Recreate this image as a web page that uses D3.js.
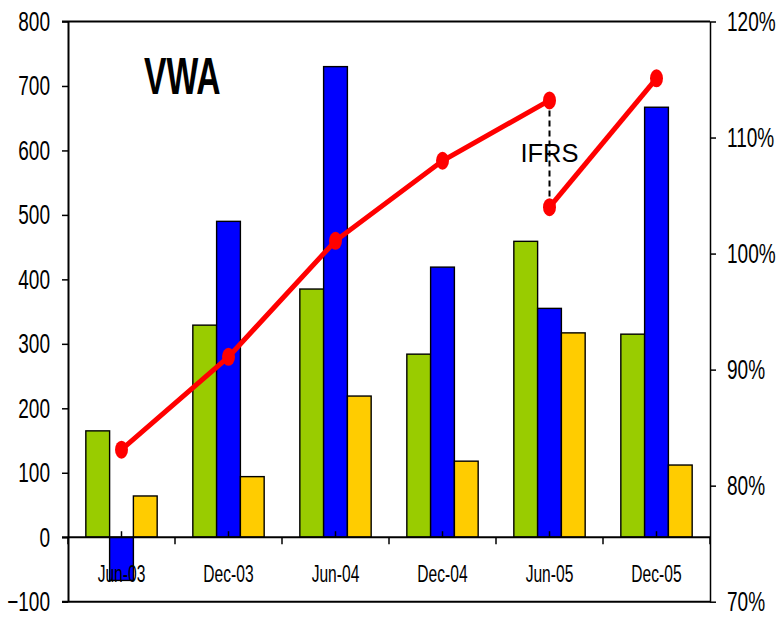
<!DOCTYPE html>
<html>
<head>
<meta charset="utf-8">
<script src="https://cdn.jsdelivr.net/npm/d3@7"></script>
<style>
  body { margin: 0; background: #fff; }
  svg { display: block; font-family: "Liberation Sans", Arial, sans-serif; }
</style>
</head>
<body>
<div id="chart"></div>
<script>
const categories = ["Jun-03", "Dec-03", "Jun-04", "Dec-04", "Jun-05", "Dec-05"];
const greenValues = [165, 329, 385, 284, 459, 315];
const blueValues = [-67, 490, 730, 419, 355, 667];
const yellowValues = [64, 94, 219, 118, 317, 112];

// ratio line, before and after the IFRS restatement at Jun-05
const ratioPreIfrs = [83.1, 91.1, 101.1, 108.0, 113.2];
const ratioPostIfrs = [104.0, 115.1];

const leftTicks = [-100, 0, 100, 200, 300, 400, 500, 600, 700, 800];
const rightTicks = [70, 80, 90, 100, 110, 120];

const seriesKeys = ["green", "blue", "yellow"];
const seriesColor = { green: "#99CC00", blue: "#0000FF", yellow: "#FFCC00" };
const seriesValues = { green: greenValues, blue: blueValues, yellow: yellowValues };

const width = 783;
const height = 617;
const plotLeft = 68;
const plotRight = 710;
const plotTop = 21.5;
const plotBottom = 601.7;
const squeeze = 0.68; // text in the source is drawn narrow

const svg = d3.select("#chart").append("svg")
  .attr("width", width)
  .attr("height", height);

const x = d3.scaleBand().domain(categories).range([plotLeft, plotRight]).padding(0);
const xSub = d3.scaleBand().domain(seriesKeys).range([0, x.bandwidth()])
  .paddingInner(0).paddingOuter(0.75);
const y = d3.scaleLinear().domain([-100, 800]).range([plotBottom, plotTop]);
const yRight = d3.scaleLinear().domain([70, 120]).range([plotBottom, plotTop]);

const cx = (c) => x(c) + x.bandwidth() / 2;

// bars
const groups = svg.append("g").selectAll("g")
  .data(categories)
  .join("g")
  .attr("transform", (d) => `translate(${x(d)},0)`);

groups.selectAll("rect")
  .data((d, i) => seriesKeys.map((k) => ({ key: k, value: seriesValues[k][i] })))
  .join("rect")
  .attr("x", (d) => xSub(d.key))
  .attr("width", xSub.bandwidth())
  .attr("y", (d) => y(Math.max(0, d.value)))
  .attr("height", (d) => Math.abs(y(d.value) - y(0)))
  .attr("fill", (d) => seriesColor[d.key])
  .attr("stroke", "#000")
  .attr("stroke-width", 1.4);

// frame lines
const frame = svg.append("g").attr("stroke", "#000").attr("stroke-width", 2);
frame.append("line").attr("x1", plotLeft - 6).attr("x2", plotRight)
  .attr("y1", y(800)).attr("y2", y(800));
frame.append("line").attr("x1", plotLeft - 6).attr("x2", plotRight)
  .attr("y1", y(-100)).attr("y2", y(-100));
frame.append("line").attr("x1", plotLeft - 6).attr("x2", plotRight)
  .attr("y1", y(0)).attr("y2", y(0));

// category ticks on the zero line
svg.append("g").attr("stroke", "#000").attr("stroke-width", 1.5)
  .selectAll("line.bound")
  .data(categories.concat(["end"]))
  .join("line")
  .attr("x1", (d, i) => (i < categories.length ? x(d) : plotRight))
  .attr("x2", (d, i) => (i < categories.length ? x(d) : plotRight))
  .attr("y1", y(0)).attr("y2", y(0) + 7);

svg.append("g").attr("stroke", "#000").attr("stroke-width", 1.5)
  .selectAll("line")
  .data(categories)
  .join("line")
  .attr("x1", cx).attr("x2", cx)
  .attr("y1", y(0) - 6).attr("y2", y(0));

// left axis
const axisL = svg.append("g")
  .attr("transform", `translate(${plotLeft},0)`)
  .call(d3.axisLeft(y).tickValues(leftTicks).tickSize(6).tickSizeOuter(0).tickPadding(12));
axisL.select(".domain").attr("stroke-width", 2);
axisL.selectAll(".tick line").attr("stroke-width", 1.5);
axisL.selectAll("text")
  .attr("font-size", 28)
  .attr("font-family", "'Liberation Sans', Arial, sans-serif")
  .attr("fill", "#000")
  .attr("x", -18 / squeeze)
  .attr("transform", `scale(${squeeze},1)`);

// right axis
const axisR = svg.append("g")
  .attr("transform", `translate(${plotRight},0)`)
  .call(d3.axisRight(yRight).tickValues(rightTicks).tickSize(6).tickSizeOuter(0).tickPadding(11)
    .tickFormat((d) => d + "%"));
axisR.select(".domain").attr("stroke-width", 1.5);
axisR.selectAll(".tick line").attr("stroke-width", 1.5);
axisR.selectAll("text")
  .attr("font-size", 28)
  .attr("font-family", "'Liberation Sans', Arial, sans-serif")
  .attr("fill", "#000")
  .attr("x", 17 / squeeze)
  .attr("transform", `scale(${squeeze},1)`);

// category labels
svg.append("g").selectAll("text")
  .data(categories)
  .join("text")
  .attr("x", (d) => cx(d) / 0.65)
  .attr("y", 582)
  .attr("transform", "scale(0.65,1)")
  .attr("text-anchor", "middle")
  .attr("font-size", 24)
  .text((d) => d);

// IFRS break marker
const ifrsCat = categories[4];
svg.append("line")
  .attr("x1", cx(ifrsCat)).attr("x2", cx(ifrsCat))
  .attr("y1", yRight(ratioPreIfrs[4])).attr("y2", yRight(ratioPostIfrs[0]))
  .attr("stroke", "#000")
  .attr("stroke-width", 2)
  .attr("stroke-dasharray", "6,4");

svg.append("text")
  .attr("x", cx(ifrsCat))
  .attr("y", 161.5)
  .attr("text-anchor", "middle")
  .attr("font-size", 25.5)
  .text("IFRS");

// ratio line
const preData = ratioPreIfrs.map((v, i) => ({ cat: categories[i], v }));
const postData = ratioPostIfrs.map((v, i) => ({ cat: categories[4 + i], v }));
const line = d3.line().x((d) => cx(d.cat)).y((d) => yRight(d.v));

[preData, postData].forEach((seg) => {
  svg.append("path")
    .attr("d", line(seg))
    .attr("fill", "none")
    .attr("stroke", "#FF0000")
    .attr("stroke-width", 5);
  svg.append("g").selectAll("ellipse")
    .data(seg)
    .join("ellipse")
    .attr("cx", (d) => cx(d.cat))
    .attr("cy", (d) => yRight(d.v))
    .attr("rx", 6.5)
    .attr("ry", 9)
    .attr("fill", "#FF0000");
});

// title
svg.append("text")
  .attr("x", 144 / 0.66)
  .attr("y", 94)
  .attr("transform", "scale(0.66,1)")
  .attr("font-size", 51)
  .attr("font-weight", "bold")
  .text("VWA");
</script>
</body>
</html>
